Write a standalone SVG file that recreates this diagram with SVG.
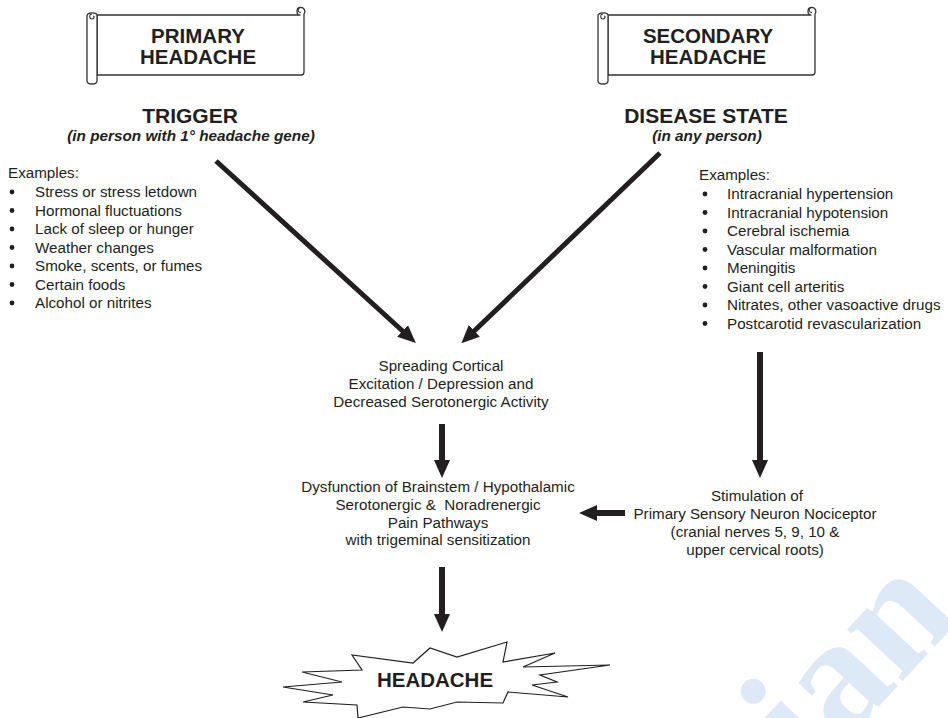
<svg xmlns="http://www.w3.org/2000/svg" width="948" height="718" viewBox="0 0 948 718">
  <style>
    .t { font-family: "Liberation Sans", Arial, sans-serif; fill: #231f20; }
    .body { font-size: 15.2px; }
    .title { font-size: 21px; font-weight: bold; }
    .banner { font-size: 20.5px; font-weight: bold; }
    .sub { font-size: 15.3px; font-weight: bold; font-style: italic; }
    .scroll { fill: #ffffff; stroke: #333333; stroke-width: 1.3; stroke-linejoin: round; }
    .curl { fill: none; stroke: #333333; stroke-width: 1.1; }
    .arrow { stroke: #231f20; fill: none; }
    .dot { fill: #231f20; }
  </style>
  <defs>
    <marker id="head" markerUnits="userSpaceOnUse" markerWidth="18" markerHeight="16" refX="6" refY="8" orient="auto">
      <path d="M0,0 L18,8 L0,16 z" fill="#231f20"/>
    </marker>
    <!-- scroll banner outline, drawn at origin -->
    <g id="scrollShape">
      <path class="scroll" d="M10,8 H213 C209,8 209,1 213,0.5 C217,0 219,4 217,7 V65 Q217,68 214,68 H10 Z"/>
      <path class="curl" d="M213,0.5 C210,1.5 211,6 214,5.5"/>
      <path class="scroll" d="M10,8 C10,5 0,5 0,9 V74 C0,78 10,78 10,74 Z"/>
      <path class="curl" d="M5,7 C2,7 2,12 5,12 C7,12 8,9 6,9"/>
    </g>
  </defs>

  <rect width="948" height="718" fill="#ffffff"/>

  <!-- faint site watermark -->
  <text x="0" y="0" transform="translate(812,778) rotate(-47)" font-family="Liberation Serif, serif" font-weight="bold" font-size="165" fill="#dde9f6">ian</text>

  <g id="primary">
    <use href="#scrollShape" x="87" y="7"/>
    <text class="t banner" x="198" y="43" text-anchor="middle">PRIMARY</text>
    <text class="t banner" x="198" y="64" text-anchor="middle">HEADACHE</text>
  </g>

  <g id="secondary">
    <use href="#scrollShape" x="598" y="7"/>
    <text class="t banner" x="708" y="43" text-anchor="middle">SECONDARY</text>
    <text class="t banner" x="708" y="64" text-anchor="middle">HEADACHE</text>
  </g>

  <g id="trigger">
    <text class="t title" x="190" y="123" text-anchor="middle">TRIGGER</text>
    <text class="t sub" x="191" y="141" text-anchor="middle">(in person with 1° headache gene)</text>
  </g>

  <g id="disease">
    <text class="t title" x="706" y="123" text-anchor="middle">DISEASE STATE</text>
    <text class="t sub" x="707" y="141" text-anchor="middle">(in any person)</text>
  </g>

  <g id="trigger-examples">
    <text class="t body" x="8" y="178">Examples:</text>
    <g class="dot">
      <circle cx="12" cy="192" r="2.4"/>
      <circle cx="12" cy="210.5" r="2.4"/>
      <circle cx="12" cy="229" r="2.4"/>
      <circle cx="12" cy="247.5" r="2.4"/>
      <circle cx="12" cy="266" r="2.4"/>
      <circle cx="12" cy="284.5" r="2.4"/>
      <circle cx="12" cy="303" r="2.4"/>
    </g>
    <text class="t body" x="35" y="197">Stress or stress letdown</text>
    <text class="t body" x="35" y="215.5">Hormonal fluctuations</text>
    <text class="t body" x="35" y="234">Lack of sleep or hunger</text>
    <text class="t body" x="35" y="252.5">Weather changes</text>
    <text class="t body" x="35" y="271">Smoke, scents, or fumes</text>
    <text class="t body" x="35" y="289.5">Certain foods</text>
    <text class="t body" x="35" y="308">Alcohol or nitrites</text>
  </g>

  <g id="disease-examples">
    <text class="t body" x="699" y="180">Examples:</text>
    <g class="dot">
      <circle cx="705" cy="194" r="2.4"/>
      <circle cx="705" cy="212.5" r="2.4"/>
      <circle cx="705" cy="231" r="2.4"/>
      <circle cx="705" cy="249.5" r="2.4"/>
      <circle cx="705" cy="268" r="2.4"/>
      <circle cx="705" cy="286.5" r="2.4"/>
      <circle cx="705" cy="305" r="2.4"/>
      <circle cx="705" cy="323.5" r="2.4"/>
    </g>
    <text class="t body" x="727" y="199">Intracranial hypertension</text>
    <text class="t body" x="727" y="217.5">Intracranial hypotension</text>
    <text class="t body" x="727" y="236">Cerebral ischemia</text>
    <text class="t body" x="727" y="254.5">Vascular malformation</text>
    <text class="t body" x="727" y="273">Meningitis</text>
    <text class="t body" x="727" y="291.5">Giant cell arteritis</text>
    <text class="t body" x="727" y="310">Nitrates, other vasoactive drugs</text>
    <text class="t body" x="727" y="328.5">Postcarotid revascularization</text>
  </g>

  <g id="cortical">
    <text class="t body" x="441" y="371" text-anchor="middle">Spreading Cortical</text>
    <text class="t body" x="441" y="389" text-anchor="middle">Excitation / Depression and</text>
    <text class="t body" x="441" y="407" text-anchor="middle">Decreased Serotonergic Activity</text>
  </g>

  <g id="brainstem">
    <text class="t body" x="438" y="492" text-anchor="middle">Dysfunction of Brainstem / Hypothalamic</text>
    <text class="t body" x="438" y="510" text-anchor="middle">Serotonergic &amp;&#160; Noradrenergic</text>
    <text class="t body" x="438" y="527.5" text-anchor="middle">Pain Pathways</text>
    <text class="t body" x="438" y="545" text-anchor="middle">with trigeminal sensitization</text>
  </g>

  <g id="nociceptor">
    <text class="t body" x="757" y="501" text-anchor="middle">Stimulation of</text>
    <text class="t body" x="755" y="519" text-anchor="middle">Primary Sensory Neuron Nociceptor</text>
    <text class="t body" x="755" y="537" text-anchor="middle">(cranial nerves 5, 9, 10 &amp;</text>
    <text class="t body" x="755" y="555" text-anchor="middle">upper cervical roots)</text>
  </g>

  <g id="headache">
    <path d="M283,687 L342,682 L302,672 L362,670 L352,655 L413,663 L430,648 L457,657 L507,642 L503,662 L555,653 L523,667 L610,665 L540,675 L557,682 L532,685 L568,697 L508,692 L503,703 L457,702 L430,709 L403,707 L358,718 L357,705 L303,702 L333,695 Z" fill="#ffffff" stroke="#231f20" stroke-width="1.2" stroke-linejoin="miter"/>
    <text class="t banner" x="435" y="687" text-anchor="middle">HEADACHE</text>
  </g>

  <g id="connectors">
    <line class="arrow" x1="216" y1="161" x2="407" y2="335" stroke-width="5" marker-end="url(#head)"/>
    <line class="arrow" x1="660" y1="153" x2="470" y2="335" stroke-width="5" marker-end="url(#head)"/>
    <line class="arrow" x1="760" y1="352" x2="760" y2="466" stroke-width="6" marker-end="url(#head)"/>
    <line class="arrow" x1="442" y1="424" x2="442" y2="466" stroke-width="6" marker-end="url(#head)"/>
    <line class="arrow" x1="442" y1="567" x2="442" y2="620" stroke-width="6" marker-end="url(#head)"/>
    <line class="arrow" x1="625" y1="513" x2="591" y2="513" stroke-width="6" marker-end="url(#head)"/>
  </g>
</svg>
